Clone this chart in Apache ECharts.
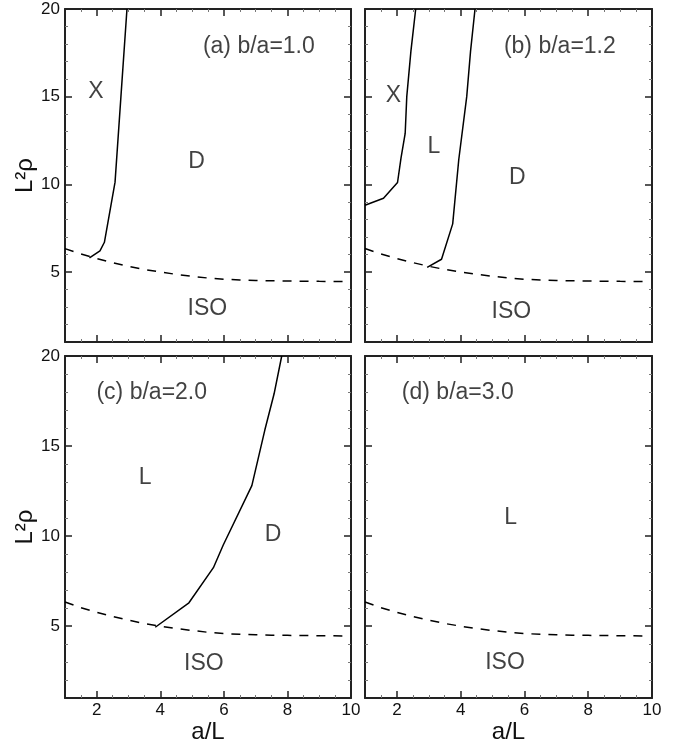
<!DOCTYPE html>
<html><head><meta charset="utf-8">
<script src="https://cdn.jsdelivr.net/npm/echarts@6/dist/echarts.min.js"></script>
<style>html,body{margin:0;padding:0;background:#fff}#c{width:680px;height:748px}</style>
</head><body><div id="c"></div>
<script>
// ---- data ----
const xMin = 1, xMax = 10, yMin = 1, yMax = 20;
const xMajorTicks = [2, 4, 6, 8];
const xTickLabels = [2, 4, 6, 8, 10];
const xMinorTicks = [1.5, 2.5, 3, 3.5, 4.5, 5, 5.5, 6.5, 7, 7.5, 8.5, 9, 9.5];
const yMajorTicks = [5, 10, 15];
const yTickLabels = [5, 10, 15, 20];
const yMinorTicks = [2, 3, 4, 6, 7, 8, 9, 11, 12, 13, 14, 16, 17, 18, 19];

// ISO boundary (dashed), same in every panel
const isoX = [1, 1.5, 2, 2.5, 3, 3.5, 4, 4.5, 5, 5.5, 6, 6.5, 7, 7.5, 8, 8.5, 9, 9.75];
const isoY = [6.33, 6.02, 5.76, 5.53, 5.32, 5.14, 4.99, 4.86, 4.75, 4.65, 4.58, 4.54, 4.51, 4.49, 4.48, 4.47, 4.46, 4.45];

// solid phase boundaries
const aXDx = [1.77, 2.1, 2.24, 2.575, 2.76, 2.95];
const aXDy = [5.8, 6.2, 6.69, 10.12, 15, 20];
const bXLx = [1, 1.58, 2.02, 2.13, 2.26, 2.31, 2.44, 2.59];
const bXLy = [8.8, 9.2, 10.1, 11.5, 12.9, 15, 17.6, 20];
const bLDx = [2.95, 3.4, 3.75, 3.94, 4.19, 4.31, 4.45];
const bLDy = [5.26, 5.72, 7.74, 11.4, 15, 17.6, 20];
const cLDx = [3.84, 4.9, 5.67, 5.98, 6.88, 7.29, 7.58, 7.82];
const cLDy = [4.93, 6.29, 8.24, 9.5, 12.8, 15.9, 17.9, 20];

// panel texts
const titles = ['(a) b/a=1.0', '(b) b/a=1.2', '(c) b/a=2.0', '(d) b/a=3.0'];
const titleX = [7.1, 7.11, 3.73, 3.91];
const titleY = [17.87, 17.87, 17.97, 17.97];
const regionNames = [['X', 'D', 'ISO'], ['X', 'L', 'D', 'ISO'], ['L', 'D', 'ISO'], ['L', 'ISO']];
const regionX = [[1.97, 5.14, 5.48], [1.89, 3.16, 5.78, 5.59], [3.52, 7.55, 5.37], [5.57, 5.39]];
const regionY = [[15.27, 11.29, 2.89], [15.07, 12.16, 10.35, 2.73], [13.25, 10.06, 2.89], [11.03, 2.94]];
const xName = 'a/L';
const yName = 'L²ρ';

// ---- chart ----
const F = 'Liberation Sans, Arial, Helvetica, sans-serif';
const ink = '#111';
const grids = [
  {left: 65, top: 9, width: 286, height: 333},
  {left: 365, top: 9, width: 287, height: 333},
  {left: 65, top: 356, width: 286, height: 342},
  {left: 365, top: 356, width: 287, height: 342}
];
const curves = [
  [[aXDx, aXDy]],
  [[bXLx, bXLy], [bLDx, bLDy]],
  [[cLDx, cLDy]],
  []
];
const zip = (xs, ys) => xs.map((x, k) => [x, ys[k]]);

const xAxes = [], yAxes = [], series = [];
grids.forEach((g, i) => {
  const bottomRow = i >= 2, leftCol = i % 2 === 0;
  const xi = xAxes.length, yi = yAxes.length;
  const mkX = (pos, major, showLabel, name) => ({
    type: 'value', gridIndex: i, position: pos, min: xMin, max: xMax,
    axisLine: {show: major, onZero: false, lineStyle: {color: '#222', width: 2}},
    axisTick: {show: true, inside: true, length: major ? 7 : 3,
      customValues: major ? xMajorTicks : xMinorTicks,
      lineStyle: {color: major ? '#222' : '#777', width: major ? 1.5 : 1}},
    axisLabel: {show: showLabel, customValues: xTickLabels, margin: 4, fontSize: 17, color: ink, fontFamily: F},
    splitLine: {show: false},
    name: name || '', nameLocation: 'middle', nameGap: 20,
    nameTextStyle: {fontSize: 24, color: ink, fontFamily: F}
  });
  const mkY = (pos, major, showLabel, name) => ({
    type: 'value', gridIndex: i, position: pos, min: yMin, max: yMax,
    axisLine: {show: major, onZero: false, lineStyle: {color: '#222', width: 2}},
    axisTick: {show: true, inside: true, length: major ? 7 : 3,
      customValues: major ? yMajorTicks : yMinorTicks,
      lineStyle: {color: major ? '#222' : '#777', width: major ? 1.5 : 1}},
    axisLabel: {show: showLabel, customValues: yTickLabels, margin: 5, fontSize: 17, color: ink, fontFamily: F},
    splitLine: {show: false},
    name: name || '', nameLocation: 'middle', nameGap: 22, nameRotate: 90,
    nameTextStyle: {fontSize: 24, color: ink, fontFamily: F}
  });
  xAxes.push(mkX('bottom', true, bottomRow, bottomRow ? xName : ''));
  xAxes.push(mkX('bottom', false, false));
  xAxes.push(mkX('top', true, false));
  xAxes.push(mkX('top', false, false));
  yAxes.push(mkY('left', true, leftCol, leftCol ? yName : ''));
  yAxes.push(mkY('left', false, false));
  yAxes.push(mkY('right', true, false));
  yAxes.push(mkY('right', false, false));

  series.push({
    type: 'line', xAxisIndex: xi, yAxisIndex: yi, data: zip(isoX, isoY),
    symbol: 'none', silent: true, animation: false,
    lineStyle: {color: '#000', width: 1.5, type: [9, 8]}
  });
  curves[i].forEach(c => series.push({
    type: 'line', xAxisIndex: xi, yAxisIndex: yi, data: zip(c[0], c[1]),
    symbol: 'none', silent: true, animation: false,
    lineStyle: {color: '#000', width: 1.5}
  }));
  const pts = [{name: titles[i], value: [titleX[i], titleY[i]]}];
  regionNames[i].forEach((n, k) => pts.push({name: n, value: [regionX[i][k], regionY[i][k]]}));
  series.push({
    type: 'scatter', xAxisIndex: xi, yAxisIndex: yi, data: pts,
    symbolSize: 1, itemStyle: {color: 'rgba(0,0,0,0)'}, silent: true, animation: false,
    label: {show: true, position: 'inside', formatter: '{b}', fontSize: 23, color: ink, fontFamily: F}
  });
});

const chart = echarts.init(document.getElementById('c'), null, {renderer: 'canvas'});
chart.setOption({
  backgroundColor: '#fff',
  animation: false,
  grid: grids,
  xAxis: xAxes,
  yAxis: yAxes,
  series: series
});
</script>
</body></html>
